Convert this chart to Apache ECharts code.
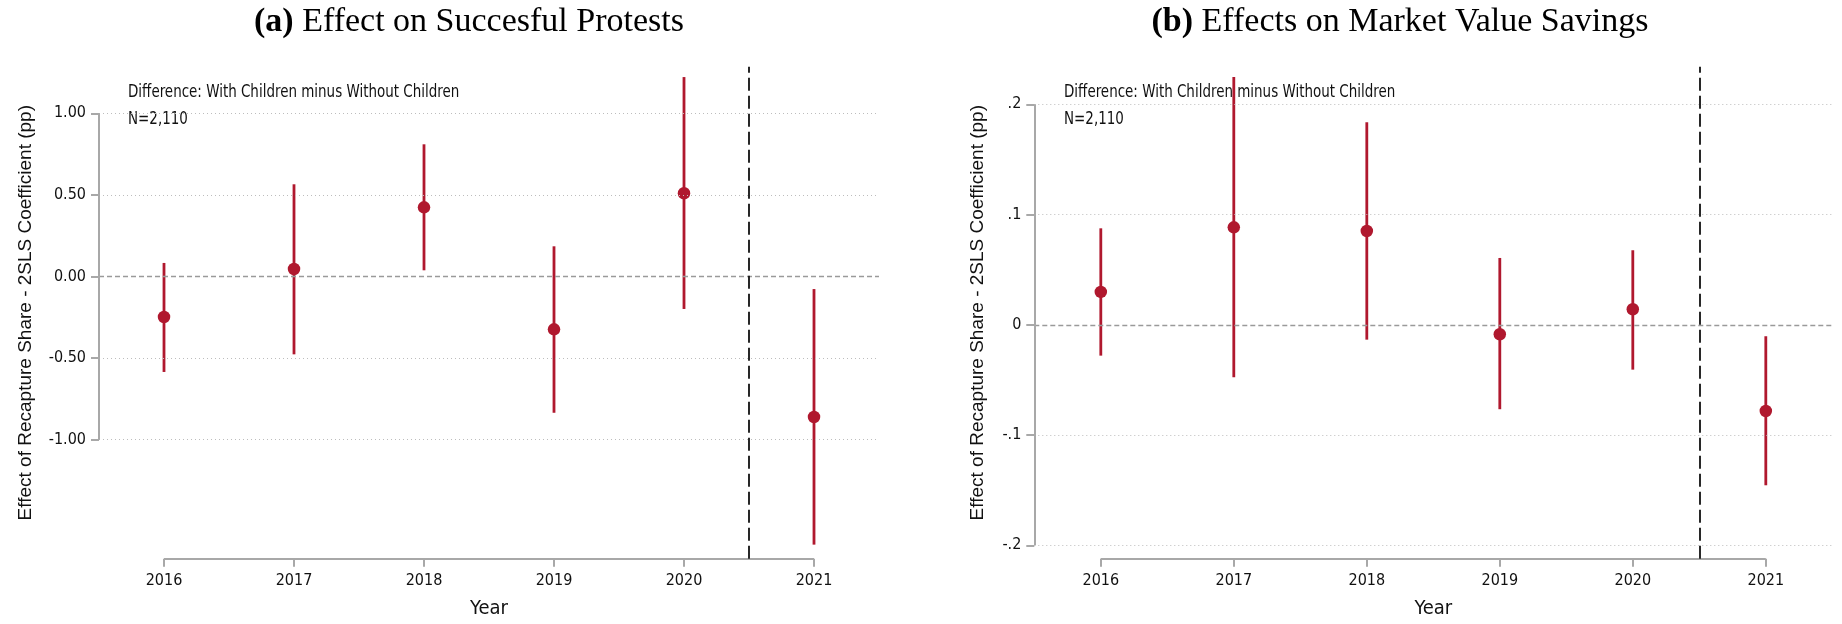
<!DOCTYPE html>
<html>
<head>
<meta charset="utf-8">
<script src="https://cdn.jsdelivr.net/npm/echarts@6/dist/echarts.min.js"></script>
<style>
html,body{margin:0;padding:0;background:#fff;}
#chart{width:1842px;height:624px;}
</style>
</head>
<body>
<div id="chart"></div>
<script>
// ---------- data ----------
const years = [2016, 2017, 2018, 2019, 2020, 2021];

// (a) Effect on Succesful Protests
const protestCoef = [-0.248, 0.046, 0.424, -0.324, 0.510, -0.861];
const protestLo   = [-0.585, -0.477, 0.038, -0.835, -0.199, -1.643];
const protestHi   = [0.083, 0.565, 0.810, 0.185, 1.222, -0.077];

// (b) Effects on Market Value Savings
const savingsCoef = [0.0298, 0.0884, 0.0851, -0.0086, 0.0141, -0.0782];
const savingsLo   = [-0.0280, -0.0476, -0.0135, -0.0766, -0.0407, -0.1456];
const savingsHi   = [0.0875, 0.2248, 0.1837, 0.0606, 0.0676, -0.0104];

const leftTicks  = [-1, -0.5, 0, 0.5, 1];
const leftTickLabels = ['-1.00', '-0.50', '0.00', '0.50', '1.00'];
const rightTicks = [-0.2, -0.1, 0, 0.1, 0.2];
const rightTickLabels = ['-.2', '-.1', '0', '.1', '.2'];

const titles = ['Effect on Succesful Protests', 'Effects on Market Value Savings'];
const noteLine1 = 'Difference: With Children minus Without Children';
const noteLine2 = 'N=2,110';
const yTitle = 'Effect of Recapture Share - 2SLS Coefficient (pp)';
const xTitle = 'Year';
const cutYear = 2020.5;

// ---------- style ----------
const RED = '#b0182e';
const AXIS = '#a8a8a8';
const NARROW = '"Liberation Sans Narrow", "Arial Narrow", "DejaVu Sans Condensed", "Roboto Condensed", sans-serif';
const SANS = '"Liberation Sans", Arial, sans-serif';
const SERIF = '"Liberation Serif", "Times New Roman", serif';

const chart = echarts.init(document.getElementById('chart'));

function fmtFactory(values, labels) {
  return function (v) {
    for (let i = 0; i < values.length; i++) {
      if (Math.abs(values[i] - v) < 1e-9) return labels[i];
    }
    return '';
  };
}

function xAxisOpt(gi) {
  return {
    type: 'value', gridIndex: gi, min: 2015.5, max: 2021.5,
    axisLine: {show: false, onZero: false},
    splitLine: {show: false},
    axisTick: {show: true, customValues: years, length: 8, lineStyle: {color: AXIS, width: 2}},
    axisLabel: {customValues: years, margin: 14, fontFamily: NARROW, fontSize: 16, color: '#111',
      formatter: v => String(v)},
    name: xTitle, nameLocation: 'middle', nameGap: 40,
    nameTextStyle: {fontFamily: NARROW, fontSize: 20, color: '#111'}
  };
}

function yAxisOpt(gi, min, max, ticks, labels, gap) {
  return {
    type: 'value', gridIndex: gi, min: min, max: max,
    axisLine: {show: false, onZero: false},
    splitLine: {show: false},
    axisTick: {show: true, customValues: ticks, length: 8, lineStyle: {color: AXIS, width: 2}},
    axisLabel: {customValues: ticks, margin: 13, fontFamily: NARROW, fontSize: 16, color: '#111',
      formatter: fmtFactory(ticks, labels)},
    name: yTitle, nameLocation: 'middle', nameRotate: 90, nameGap: gap,
    nameTextStyle: {fontFamily: SANS, fontSize: 19, color: '#111'}
  };
}

function errorSeries(gi, lo, hi) {
  return {
    type: 'custom', xAxisIndex: gi, yAxisIndex: gi, silent: true, z: 3,
    data: years.map((y, i) => [y, lo[i], hi[i]]),
    encode: {x: 0, y: [1, 2]},
    renderItem: function (params, api) {
      const p1 = api.coord([api.value(0), api.value(1)]);
      const p2 = api.coord([api.value(0), api.value(2)]);
      return {type: 'line', shape: {x1: p1[0], y1: p1[1], x2: p2[0], y2: p2[1]},
        style: {stroke: RED, lineWidth: 2.8}};
    }
  };
}

function refSeries(gi, ticks, yMinAxis) {
  const grids = ticks.filter(t => t !== 0).map(t => ({yAxis: t,
    lineStyle: {color: '#bdbdbd', type: [1, 3], width: 1.2}}));
  const zero = {yAxis: 0, lineStyle: {color: '#9a9a9a', type: [5, 3], width: 1.4}};
  const cut = {xAxis: cutYear, lineStyle: {color: '#111', type: [13, 5], width: 1.8}};
  const solid = {color: AXIS, width: 2, type: 'solid'};
  const yLine = [{coord: [2015.5, ticks[0]], lineStyle: solid}, {coord: [2015.5, ticks[ticks.length - 1]]}];
  const xLine = [{coord: [years[0], yMinAxis], lineStyle: solid}, {coord: [years[years.length - 1], yMinAxis]}];
  return {
    type: 'line', xAxisIndex: gi, yAxisIndex: gi, data: [], silent: true, clip: false, z: 1,
    markLine: {
      silent: true, symbol: ['none', 'none'], label: {show: false}, animation: false,
      emphasis: {disabled: true},
      data: grids.concat([zero, yLine, xLine, cut])
    }
  };
}

function pointSeries(gi, coef) {
  return {
    type: 'scatter', xAxisIndex: gi, yAxisIndex: gi, silent: true, z: 4,
    symbol: 'circle', symbolSize: 12.5, itemStyle: {color: RED, opacity: 1},
    data: years.map((y, i) => [y, coef[i]])
  };
}

function note(x, y, text) {
  return {type: 'text', x: x, y: y, scaleX: 0.88, silent: true,
    style: {text: text, fontFamily: NARROW, fontSize: 17, fill: '#111', verticalAlign: 'middle'}};
}

const L = {min: -1.7292, max: 1.2855};
const R = {min: -0.2122, max: 0.2341};

const option = {
  animation: false,
  backgroundColor: '#fff',
  title: [
    {text: '{b|(a)} ' + titles[0], left: 464, top: 0, textAlign: 'center',
      textStyle: {fontFamily: SERIF, fontSize: 34, fontWeight: 'normal', color: '#000',
        rich: {b: {fontFamily: SERIF, fontSize: 34, fontWeight: 'bold', color: '#000'}}}},
    {text: '{b|(b)} ' + titles[1], left: 1395, top: 0, textAlign: 'center',
      textStyle: {fontFamily: SERIF, fontSize: 34, fontWeight: 'normal', color: '#000',
        rich: {b: {fontFamily: SERIF, fontSize: 34, fontWeight: 'bold', color: '#000'}}}}
  ],
  graphic: [
    note(128, 92.5, noteLine1),
    note(128, 119.5, noteLine2),
    note(1064, 92.5, noteLine1),
    note(1064, 119.5, noteLine2)
  ],
  grid: [
    {left: 99, top: 66.7, width: 780, height: 492},
    {left: 1034.3, top: 66.7, width: 798, height: 492}
  ],
  xAxis: [xAxisOpt(0), xAxisOpt(1)],
  yAxis: [
    yAxisOpt(0, L.min, L.max, leftTicks, leftTickLabels, 64),
    yAxisOpt(1, R.min, R.max, rightTicks, rightTickLabels, 47)
  ],
  series: [
    refSeries(0, leftTicks, L.min),
    errorSeries(0, protestLo, protestHi),
    pointSeries(0, protestCoef),
    refSeries(1, rightTicks, R.min),
    errorSeries(1, savingsLo, savingsHi),
    pointSeries(1, savingsCoef)
  ]
};
chart.setOption(option);
</script>
</body>
</html>
